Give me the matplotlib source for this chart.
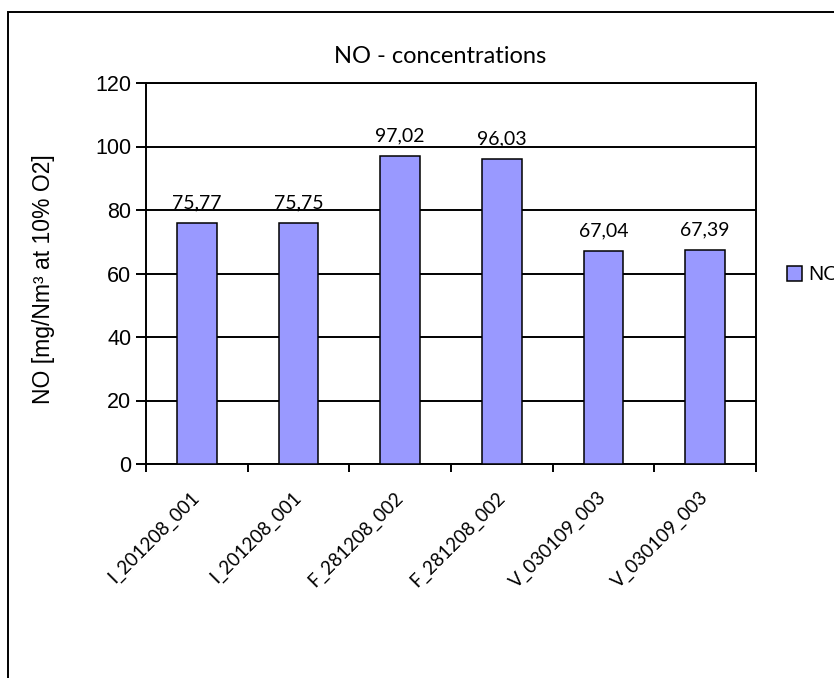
import matplotlib
matplotlib.use("Agg")
import matplotlib.pyplot as plt
from matplotlib.patches import Rectangle
import numpy as np

samples = ["I_201208_001", "I_201208_001", "F_281208_002", "F_281208_002", "V_030109_003", "V_030109_003"]
no_values = [75.77, 75.75, 97.02, 96.03, 67.04, 67.39]
value_labels = ["75,77", "75,75", "97,02", "96,03", "67,04", "67,39"]
y_ticks = [0, 20, 40, 60, 80, 100, 120]

W, H = 834, 678
fig = plt.figure(figsize=(W / 100, H / 100), dpi=100)

# outer chart frame, cut off at right and bottom like the source
fig.patches.append(Rectangle((8 / W, -0.05), 1.1, 1 - 12 / H + 0.05, transform=fig.transFigure,
                             fill=False, edgecolor="black", linewidth=1.4))

ax = fig.add_axes([146 / W, 1 - 464 / H, (756 - 146) / W, (464 - 83) / H])

x = np.arange(len(samples))
ax.bar(x, no_values, width=0.39, color="#9999FF", edgecolor="black", linewidth=1.1, zorder=3, label="NO")

for xi, v, lab in zip(x, no_values, value_labels):
    ax.annotate(lab, (xi, v), xytext=(0, 8.5), textcoords="offset points",
                ha="center", va="bottom", fontsize=14, family="Lato", zorder=4)

ax.set_xlim(-0.5, len(samples) - 0.5)
ax.set_ylim(0, 120)
ax.set_yticks(y_ticks)
ax.set_yticklabels([str(t) for t in y_ticks], fontsize=15.5, family="Liberation Sans")
ax.yaxis.grid(True, color="black", linewidth=1.4, zorder=0)
ax.set_axisbelow(True)

# category labels at centres, tick marks at boundaries (Excel style)
ax.set_xticks(x)
ax.set_xticklabels(samples, rotation=45, ha="right", va="center", rotation_mode="anchor",
                   fontsize=13.5, family="Lato")
ax.tick_params(axis="x", which="major", length=0, pad=22)
ax.set_xticks(np.arange(-0.5, len(samples), 1.0), minor=True)
ax.tick_params(axis="x", which="minor", length=6, width=1.4, direction="out")
ax.tick_params(axis="y", length=7, width=1.4, direction="out", pad=3.5)

for s in ax.spines.values():
    s.set_linewidth(1.4)
    s.set_color("black")

ax.set_ylabel("NO [mg/Nm³ at 10% O2]", fontsize=16.5, family="Liberation Sans")
ax.yaxis.set_label_coords((55 - 146) / 610, (464 - 279) / 381)

fig.text(440 / W, 1 - 63 / H, "NO - concentrations", ha="center", va="baseline", fontsize=17, family="Lato")

fig.legend(loc="center left", bbox_to_anchor=(787 / W, 1 - 275 / H), frameon=False,
           handlelength=0.7, handleheight=0.7, handletextpad=0.3, borderpad=0, borderaxespad=0,
           prop={"family": "Liberation Sans", "size": 15})

fig.savefig("out.png", dpi=100)
